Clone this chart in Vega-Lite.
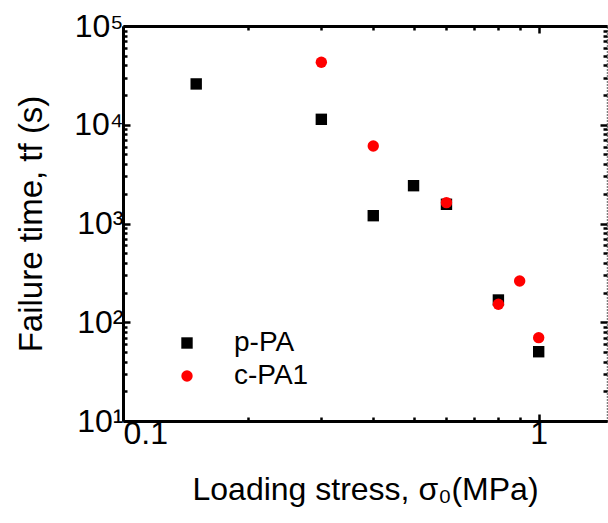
{
  "$schema": "https://vega.github.io/schema/vega-lite/v6.json",
  "autosize": "none",
  "width": 484,
  "height": 395,
  "padding": {"left": 123, "top": 26, "right": 1, "bottom": 102},
  "background": "white",
  "config": {
    "view": {"stroke": null},
    "font": "Liberation Sans",
    "axis": {
      "grid": false,
      "domainColor": "black",
      "domainWidth": 3,
      "tickColor": "black",
      "tickWidth": 2.5,
      "labelFont": "Liberation Sans",
      "labelFontSize": 32,
      "labelColor": "black",
      "titleFont": "Liberation Sans",
      "titleFontSize": 32,
      "titleFontWeight": "normal",
      "titleColor": "black",
      "labelOverlap": false,
      "labelBound": false
    }
  },
  "data": {
    "values": [
      {"stress": 0.15, "time": 25900, "sample": "p-PA"},
      {"stress": 0.3, "time": 11350, "sample": "p-PA"},
      {"stress": 0.4, "time": 1200, "sample": "p-PA"},
      {"stress": 0.5, "time": 2415, "sample": "p-PA"},
      {"stress": 0.6, "time": 1565, "sample": "p-PA"},
      {"stress": 0.8, "time": 168, "sample": "p-PA"},
      {"stress": 1.0, "time": 50.3, "sample": "p-PA"},
      {"stress": 0.3, "time": 42900, "sample": "c-PA1"},
      {"stress": 0.4, "time": 6090, "sample": "c-PA1"},
      {"stress": 0.6, "time": 1627, "sample": "c-PA1"},
      {"stress": 0.8, "time": 152, "sample": "c-PA1"},
      {"stress": 0.9, "time": 262, "sample": "c-PA1"},
      {"stress": 1.0, "time": 69.8, "sample": "c-PA1"}
    ]
  },
  "layer": [
    {
      "mark": {"type": "point", "filled": true, "opacity": 1, "size": 130},
      "encoding": {
        "x": {
          "field": "stress", "type": "quantitative",
          "scale": {"type": "log", "domain": [0.1, 1.46], "nice": false},
          "axis": {
            "orient": "bottom",
            "title": "Loading stress, σ₀(MPa)",
            "values": [0.1, 0.2, 0.3, 0.4, 0.5, 0.6, 0.7, 0.8, 0.9, 1],
            "labelExpr": "datum.value == 0.1 ? '0.1' : datum.value == 1 ? '1' : ''",
            "tickSize": {"condition": {"test": "datum.value == 0.1 || datum.value == 1", "value": -7}, "value": -4},
            "labelPadding": 4,
            "titlePadding": 22
          }
        },
        "y": {
          "field": "time", "type": "quantitative",
          "scale": {"type": "log", "domain": [10, 100000], "nice": false},
          "axis": {
            "orient": "left",
            "title": "Failure time, tf (s)",
            "titleFontSize": 33,
            "values": [10,20,30,40,50,60,70,80,90,100,200,300,400,500,600,700,800,900,1000,2000,3000,4000,5000,6000,7000,8000,9000,10000,20000,30000,40000,50000,60000,70000,80000,90000,100000],
            "labelExpr": "datum.value == 10 ? '10¹' : datum.value == 100 ? '10²' : datum.value == 1000 ? '10³' : datum.value == 10000 ? '10⁴' : datum.value == 100000 ? '10⁵' : ''",
            "tickSize": {"condition": {"test": "indexof([10,100,1000,10000,100000], datum.value) >= 0", "value": -7}, "value": -4},
            "labelPadding": 7,
            "titlePadding": 25
          }
        },
        "color": {
          "field": "sample", "type": "nominal",
          "scale": {"domain": ["p-PA", "c-PA1"], "range": ["black", "red"]},
          "legend": {
            "orient": "none", "legendX": 50, "legendY": 303, "title": null,
            "padding": 0,
            "labelFont": "Liberation Sans", "labelFontSize": 28, "labelColor": "black",
            "symbolSize": 130, "labelOffset": 33, "rowPadding": 5, "symbolStrokeWidth": 0
          }
        },
        "shape": {
          "field": "sample", "type": "nominal",
          "scale": {"domain": ["p-PA", "c-PA1"], "range": ["square", "circle"]}
        }
      }
    },
    {
      "mark": {"type": "point", "opacity": 0},
      "encoding": {
        "x": {
          "field": "stress", "type": "quantitative",
          "axis": {
            "orient": "top", "title": null, "labels": false,
            "values": [0.1, 0.2, 0.3, 0.4, 0.5, 0.6, 0.7, 0.8, 0.9, 1],
            "tickSize": {"condition": {"test": "datum.value == 0.1 || datum.value == 1", "value": -7}, "value": -4}
          }
        },
        "y": {
          "field": "time", "type": "quantitative",
          "axis": {
            "orient": "right", "title": null, "labels": false,
            "domainWidth": 1.5, "domainDash": [1, 2],
            "values": [10,20,30,40,50,60,70,80,90,100,200,300,400,500,600,700,800,900,1000,2000,3000,4000,5000,6000,7000,8000,9000,10000,20000,30000,40000,50000,60000,70000,80000,90000,100000],
            "tickSize": {"condition": {"test": "indexof([10,100,1000,10000,100000], datum.value) >= 0", "value": -7}, "value": -4}
          }
        }
      }
    }
  ],
  "resolve": {"axis": {"x": "independent", "y": "independent"}}
}
